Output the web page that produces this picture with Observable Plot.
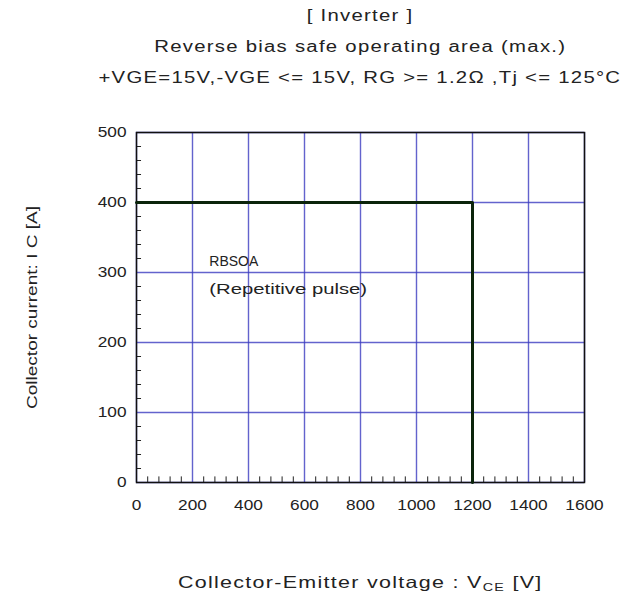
<!DOCTYPE html>
<html>
<head>
<meta charset="utf-8">
<script src="https://cdn.jsdelivr.net/npm/d3@7"></script>
<script src="https://cdn.jsdelivr.net/npm/@observablehq/plot@0.6"></script>
<style>
  body { margin: 0; background: #fff; font-family: "Liberation Sans", Arial, sans-serif; color: #222; }
  #wrap { width: 634px; }
  .titles { padding-left: 86px; box-sizing: border-box; width: 634px; text-align: center; font-size: 16px; letter-spacing: 1px; line-height: 31px; height: 93px; }
  .titles span, .xlabel span { display: inline-block; transform: scaleX(1.27); white-space: nowrap; }
  .xlabel { width: 634px; box-sizing: border-box; padding-left: 86px; text-align: center; font-size: 16.5px; letter-spacing: 1px; padding-top: 43px; line-height: 18px; }
  .xlabel span { transform: scaleX(1.3); }
  .xlabel sub { font-size: 11px; vertical-align: -3px; }
</style>
</head>
<body>
<div id="wrap">
  <div class="titles">
    <div><span>[ Inverter ]</span></div>
    <div><span>Reverse bias safe operating area (max.)</span></div>
    <div><span>+VGE=15V,-VGE &lt;= 15V, RG &gt;= 1.2Ω ,Tj &lt;= 125°C</span></div>
  </div>
  <div id="chart"></div>
  <div class="xlabel"><span>Collector-Emitter voltage : V<sub>CE</sub> [V]</span></div>
</div>
<script>
// RBSOA boundary: collector-emitter voltage (V) vs. collector current (A)
const vce = [0, 1200, 1200];
const ic = [400, 400, 0];

// axis ticks
const xTicks = [0, 200, 400, 600, 800, 1000, 1200, 1400, 1600];
const yTicks = [0, 100, 200, 300, 400, 500];

// annotation inside the plot area
const noteTitle = "RBSOA";
const noteSub = "(Repetitive pulse)";
const noteX = 260;
const noteTitleY = 315;
const noteSubY = 275;

const boundary = vce.map((v, i) => ({v, i: ic[i]}));
const xMinor = d3.range(0, 1601, 40).filter(d => d % 200 !== 0);
const yMinor = d3.range(0, 501, 20).filter(d => d % 100 !== 0);

const chart = Plot.plot({
  width: 634,
  height: 437,
  marginTop: 39,
  marginBottom: 48,
  marginLeft: 136,
  marginRight: 50,
  style: {fontFamily: "Liberation Sans, Arial, sans-serif", fontSize: "15px", color: "#222", background: "#fff"},
  x: {type: "linear", domain: [0, 1600], ticks: xTicks, tickFormat: d3.format("d"), tickSize: 0, tickPadding: 17, label: null},
  y: {type: "linear", domain: [0, 500], ticks: yTicks, tickFormat: d3.format("d"), tickSize: 0, tickPadding: 10,
      label: "Collector current: I C [A]", labelAnchor: "center", labelArrow: "none", labelOffset: 110},
  marks: [
    Plot.gridX(xTicks, {stroke: "#3c3cc0", strokeOpacity: 0.8, strokeWidth: 1.4}),
    Plot.gridY(yTicks, {stroke: "#3c3cc0", strokeOpacity: 0.8, strokeWidth: 1.4}),
    // inward minor ticks along the bottom and left edges
    Plot.ruleX(xMinor, {x: d => d, y1: () => 0, y2: () => 8, stroke: "#222", strokeWidth: 1}),
    Plot.ruleY(yMinor, {y: d => d, x1: () => 0, x2: () => 18, stroke: "#222", strokeWidth: 1}),
    Plot.frame({stroke: "#111", strokeWidth: 1.5}),
    Plot.line(boundary, {x: "v", y: "i", stroke: "#0b240b", strokeWidth: 3}),
    Plot.text([noteTitle], {x: () => noteX, y: () => noteTitleY, text: d => d, textAnchor: "start", fontSize: 14, fill: "#222"}),
    Plot.text([noteSub], {x: () => noteX, y: () => noteSubY, text: d => d, textAnchor: "start", fontSize: 14, fill: "#222"})
  ]
});

// the lettering on this sheet is set wide: stretch text horizontally about its anchor
function stretch(sel, k) {
  sel.each(function() {
    const el = d3.select(this);
    const t = el.attr("transform") || "";
    el.attr("transform", (t + ` scale(${k},1)`).trim());
  });
}
const svg = d3.select(chart);
stretch(svg.selectAll('g[aria-label="x-axis tick label"] text'), 1.15);
stretch(svg.selectAll('g[aria-label="y-axis tick label"] text'), 1.15);
stretch(svg.selectAll('g[aria-label="y-axis label"] text'), 1.27);
stretch(svg.selectAll('g[aria-label="text"]').filter((d, i) => i === 1).selectAll("text"), 1.45);
document.getElementById("chart").appendChild(chart);
</script>
</body>
</html>
